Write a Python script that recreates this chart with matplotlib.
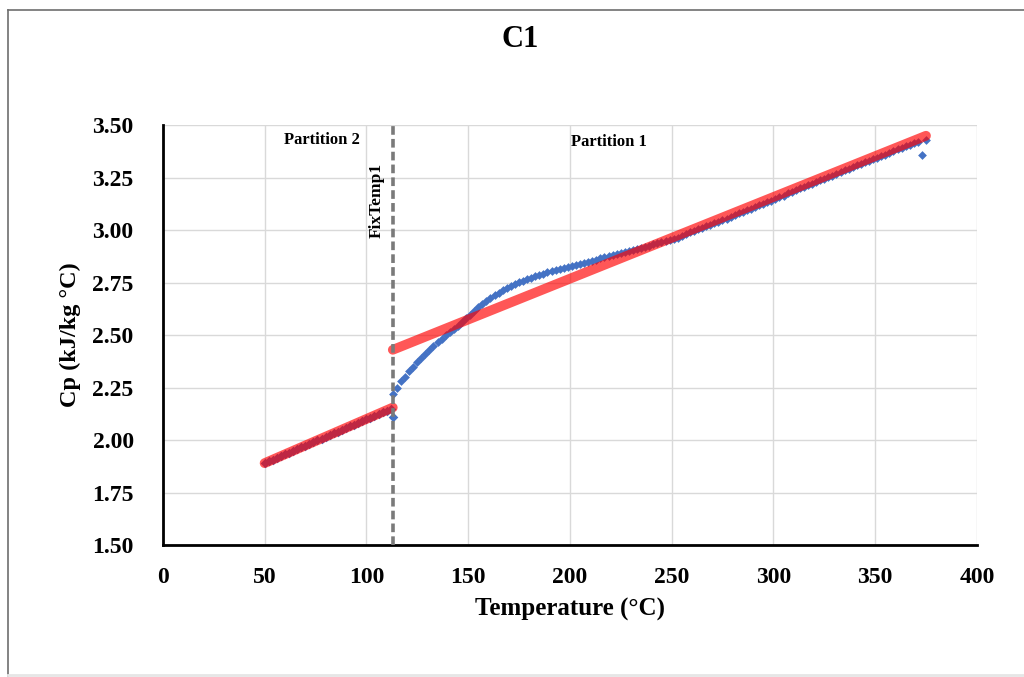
import matplotlib
matplotlib.use("Agg")
import matplotlib.pyplot as plt
from matplotlib.lines import Line2D

# ==================== Data ====================
# Partition 2 (below FixTemp1)
p2_temp = [50, 52, 54, 56, 58, 60, 62, 64, 66, 68,
           70, 72, 74, 76, 78, 80, 82, 84, 86, 88,
           90, 92, 94, 96, 98, 100, 102, 104, 106, 108,
           110, 112, 113]
p2_cp = [1.890, 1.898, 1.907, 1.915, 1.923, 1.932, 1.940, 1.948, 1.957, 1.965,
         1.973, 1.982, 1.990, 1.998, 2.007, 2.015, 2.023, 2.032, 2.040, 2.048,
         2.057, 2.065, 2.073, 2.082, 2.090, 2.098, 2.107, 2.115, 2.123, 2.132,
         2.140, 2.148, 2.112]

# Partition 1 (above FixTemp1)
p1_temp = [113, 115, 117, 119, 121, 123, 125, 127, 129, 131,
           133, 135, 137, 139, 141, 143, 145, 147, 149, 151,
           153, 155, 157, 159, 161, 163, 165, 167, 169, 171,
           173, 175, 177, 179, 181, 183, 185, 187, 189, 191,
           193, 195, 197, 199, 201, 203, 205, 207, 209, 211,
           213, 215, 217, 219, 221, 223, 225, 227, 229, 231,
           233, 235, 237, 239, 241, 243, 245, 247, 249, 251,
           253, 255, 257, 259, 261, 263, 265, 267, 269, 271,
           273, 275, 277, 279, 281, 283, 285, 287, 289, 291,
           293, 295, 297, 299, 301, 303, 305, 307, 309, 311,
           313, 315, 317, 319, 321, 323, 325, 327, 329, 331,
           333, 335, 337, 339, 341, 343, 345, 347, 349, 351,
           353, 355, 357, 359, 361, 363, 365, 367, 369, 371,
           373, 375]
p1_cp = [2.22, 2.25, 2.28, 2.30, 2.33, 2.35, 2.37, 2.39, 2.41, 2.43,
         2.45, 2.465, 2.48, 2.50, 2.515, 2.53, 2.545, 2.563, 2.581, 2.598,
         2.615, 2.632, 2.648, 2.663, 2.677, 2.69, 2.702, 2.713, 2.724, 2.734,
         2.743, 2.751, 2.759, 2.767, 2.774, 2.781, 2.787, 2.793, 2.799, 2.805,
         2.81, 2.815, 2.82, 2.823, 2.827, 2.832, 2.838, 2.844, 2.85, 2.855,
         2.86, 2.866, 2.871, 2.876, 2.881, 2.887, 2.892, 2.897, 2.902, 2.907,
         2.912, 2.917, 2.922, 2.927, 2.932, 2.937, 2.942, 2.948, 2.954, 2.96,
         2.965, 2.973, 2.98, 2.99, 2.995, 3.005, 3.01, 3.02, 3.025, 3.035,
         3.04, 3.05, 3.055, 3.065, 3.07, 3.08, 3.085, 3.095, 3.10, 3.11,
         3.12, 3.125, 3.135, 3.14, 3.15, 3.16, 3.165, 3.175, 3.18, 3.19,
         3.20, 3.205, 3.215, 3.22, 3.23, 3.24, 3.245, 3.255, 3.26, 3.27,
         3.275, 3.285, 3.29, 3.30, 3.31, 3.315, 3.325, 3.33, 3.34, 3.345,
         3.355, 3.36, 3.37, 3.375, 3.385, 3.39, 3.40, 3.405, 3.415, 3.42,
         3.36, 3.43]

# linear fits per partition
fit2_temp = [50, 113]
fit2_cp = [1.89, 2.155]
fit1_temp = [113, 375]
fit1_cp = [2.43, 3.45]

fix_temp = 113

x_ticks = [0, 50, 100, 150, 200, 250, 300, 350, 400]
y_ticks = [1.50, 1.75, 2.00, 2.25, 2.50, 2.75, 3.00, 3.25, 3.50]

# ==================== Plot ====================
plt.rcParams['font.family'] = ['Liberation Serif', 'DejaVu Serif']
plt.rcParams['font.weight'] = 'bold'

fig = plt.figure(figsize=(10.24, 6.77), dpi=100)
ax = fig.add_axes([0.159, 0.195, 0.795, 0.62])

# frame lines around the figure (left / top dark, bottom faint)
fig.add_artist(Line2D([0.008, 0.008], [0.002, 0.985], color='#6e6e6e', lw=1.2))
fig.add_artist(Line2D([0.008, 1.0], [0.985, 0.985], color='#6e6e6e', lw=1.2))
fig.add_artist(Line2D([0.008, 1.0], [0.003, 0.003], color='#e6e6e6', lw=2))

blue = '#4472C4'
red = '#FF0000'

ax.scatter(p2_temp, p2_cp, marker='D', s=24, color=blue, zorder=3, linewidths=0)
ax.scatter(p1_temp, p1_cp, marker='D', s=20, color=blue, zorder=3, linewidths=0)

ax.plot(fit2_temp, fit2_cp, color=red, lw=7, alpha=0.66, solid_capstyle='round', zorder=4)
ax.plot(fit1_temp, fit1_cp, color=red, lw=7, alpha=0.66, solid_capstyle='round', zorder=4)

ax.axvline(fix_temp, color='#7a7a7a', lw=2.6, ls=(0, (2.4, 1.15)), zorder=5)

ax.text(78, 3.43, 'Partition 2', fontsize=12, fontweight='bold', ha='center', va='center')
ax.text(219, 3.42, 'Partition 1', fontsize=12, fontweight='bold', ha='center', va='center')
ax.text(105.3, 3.143, 'FixTemp1', fontsize=12.5, fontweight='bold', rotation=90,
        ha='center', va='center')

ax.set_xlim(0, 400)
ax.set_ylim(1.5, 3.5)
ax.set_xticks(x_ticks)
ax.set_yticks(y_ticks)
ax.set_yticklabels([f'{v:.2f}' for v in y_ticks])
ax.tick_params(labelsize=17, length=0)
ax.tick_params(axis='x', pad=16)
ax.tick_params(axis='y', pad=21)
for lab in ax.get_xticklabels() + ax.get_yticklabels():
    lab.set_fontweight('bold')

ax.grid(True, color='#d9d9d9', linewidth=1)
ax.set_axisbelow(True)
for side in ['top', 'right']:
    ax.spines[side].set_visible(False)
for side in ['left', 'bottom']:
    ax.spines[side].set_linewidth(2)
    ax.spines[side].set_color('black')

ax.set_xlabel('Temperature (°C)', fontsize=18, fontweight='bold', labelpad=7)
ax.set_ylabel('Cp (kJ/kg °C)', fontsize=17.5, fontweight='bold', labelpad=8)
fig.text(0.508, 0.941, 'C1', fontsize=22, fontweight='bold', ha='center', va='center')

fig.savefig('out.png', dpi=100)
